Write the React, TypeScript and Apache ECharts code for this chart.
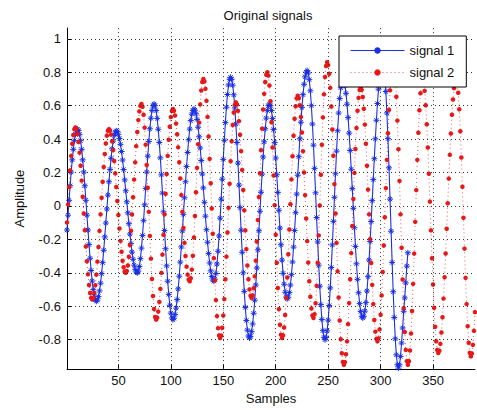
import React, { useEffect, useRef } from "react";
import * as echarts from "echarts";

// signal 1 values, samples 1..326
const signal1 = [
  -0.144, -0.055, 0.034, 0.121, 0.203, 0.276, 0.339, 0.391, 0.429, 0.452, 0.46,
  0.452, 0.429, 0.391, 0.339, 0.276, 0.203, 0.121, 0.034, -0.055, -0.144, -0.231, -0.313, -0.386, -0.449, -0.501, -0.539, -0.562, -0.57,
  -0.563, -0.542, -0.508, -0.462, -0.405, -0.339, -0.265, -0.185, -0.102, -0.018, 0.065, 0.145, 0.219, 0.285, 0.342, 0.388, 0.422, 0.443, 0.45,
  0.445, 0.429, 0.404, 0.369, 0.326, 0.275, 0.218, 0.156, 0.091, 0.025, -0.041, -0.106, -0.168, -0.225, -0.276, -0.319, -0.354, -0.379, -0.395, -0.4,
  -0.39, -0.362, -0.315, -0.252, -0.176, -0.088, 0.007, 0.105, 0.203, 0.298, 0.386, 0.462, 0.525, 0.572, 0.6, 0.61,
  0.6, 0.571, 0.524, 0.459, 0.38, 0.288, 0.186, 0.077, -0.035, -0.147, -0.256, -0.358, -0.45, -0.529, -0.594, -0.641, -0.67, -0.68,
  -0.672, -0.649, -0.611, -0.56, -0.496, -0.42, -0.336, -0.245, -0.149, -0.05, 0.049, 0.145, 0.236, 0.32, 0.396, 0.46, 0.511, 0.549, 0.572, 0.58,
  0.573, 0.552, 0.518, 0.471, 0.414, 0.347, 0.272, 0.191, 0.108, 0.022, -0.061, -0.142, -0.217, -0.284, -0.341, -0.388, -0.422, -0.443, -0.45,
  -0.438, -0.404, -0.347, -0.271, -0.179, -0.073, 0.041, 0.16, 0.279, 0.393, 0.499, 0.591, 0.667, 0.724, 0.758, 0.77,
  0.758, 0.723, 0.665, 0.587, 0.491, 0.38, 0.257, 0.125, -0.01, -0.145, -0.277, -0.4, -0.511, -0.607, -0.685, -0.743, -0.778, -0.79,
  -0.78, -0.752, -0.706, -0.642, -0.564, -0.473, -0.371, -0.262, -0.148, -0.032, 0.082, 0.191, 0.293, 0.384, 0.462, 0.526, 0.572, 0.6, 0.61,
  0.6, 0.571, 0.523, 0.458, 0.379, 0.287, 0.187, 0.081, -0.026, -0.132, -0.232, -0.324, -0.403, -0.468, -0.516, -0.545, -0.555,
  -0.546, -0.518, -0.473, -0.411, -0.335, -0.246, -0.147, -0.04, 0.071, 0.184, 0.295, 0.402, 0.501, 0.59, 0.666, 0.728, 0.773, 0.801, 0.81,
  0.796, 0.756, 0.689, 0.6, 0.49, 0.364, 0.225, 0.079, -0.069, -0.215, -0.354, -0.48, -0.59, -0.679, -0.746, -0.786, -0.8,
  -0.787, -0.747, -0.683, -0.596, -0.49, -0.368, -0.233, -0.092, 0.052, 0.193, 0.328, 0.45, 0.556, 0.643, 0.707, 0.747, 0.76,
  0.75, 0.721, 0.674, 0.609, 0.529, 0.436, 0.332, 0.22, 0.104, -0.014, -0.13, -0.242, -0.346, -0.439, -0.519, -0.584, -0.631, -0.66, -0.67,
  -0.66, -0.629, -0.578, -0.509, -0.423, -0.323, -0.212, -0.093, 0.032, 0.158, 0.283, 0.402, 0.513, 0.613, 0.699, 0.768, 0.819, 0.85, 0.86,
  0.84, 0.781, 0.685, 0.557, 0.403, 0.228, 0.041, -0.151, -0.338, -0.513, -0.667, -0.795, -0.891, -0.95, -0.97,
  -0.95, -0.9, -0.82, -0.73, -0.63, -0.55, -0.46, -0.36, -0.28,
];

// signal 2 values, samples 1..390
const signal2 = [
  -0.099, 0.009, 0.114, 0.213, 0.3, 0.372, 0.425, 0.459, 0.47,
  0.46, 0.431, 0.383, 0.319, 0.241, 0.152, 0.055, -0.045, -0.145, -0.242, -0.331, -0.409, -0.473, -0.521, -0.55, -0.56,
  -0.55, -0.521, -0.474, -0.411, -0.333, -0.245, -0.149, -0.05, 0.049, 0.145, 0.233, 0.311, 0.374, 0.421, 0.45, 0.46,
  0.452, 0.427, 0.387, 0.334, 0.269, 0.195, 0.114, 0.03, -0.054, -0.135, -0.209, -0.274, -0.328, -0.367, -0.392, -0.4,
  -0.389, -0.356, -0.304, -0.233, -0.148, -0.051, 0.052, 0.158, 0.261, 0.358, 0.443, 0.514, 0.566, 0.599, 0.61,
  0.594, 0.546, 0.469, 0.367, 0.245, 0.109, -0.035, -0.179, -0.315, -0.437, -0.539, -0.616, -0.664, -0.68,
  -0.668, -0.632, -0.574, -0.496, -0.4, -0.291, -0.173, -0.05, 0.073, 0.191, 0.3, 0.396, 0.474, 0.532, 0.568, 0.58,
  0.57, 0.541, 0.493, 0.429, 0.351, 0.262, 0.165, 0.065, -0.035, -0.132, -0.221, -0.299, -0.363, -0.411, -0.44, -0.45,
  -0.432, -0.381, -0.298, -0.189, -0.06, 0.082, 0.228, 0.37, 0.499, 0.608, 0.691, 0.742, 0.76,
  0.745, 0.701, 0.629, 0.533, 0.416, 0.282, 0.136, -0.015, -0.166, -0.312, -0.446, -0.563, -0.659, -0.731, -0.775, -0.79,
  -0.775, -0.729, -0.655, -0.557, -0.438, -0.303, -0.159, -0.011, 0.133, 0.268, 0.387, 0.485, 0.559, 0.605, 0.62,
  0.607, 0.569, 0.508, 0.426, 0.328, 0.216, 0.096, -0.026, -0.146, -0.258, -0.356, -0.438, -0.499, -0.537, -0.55,
  -0.535, -0.492, -0.421, -0.327, -0.213, -0.084, 0.054, 0.196, 0.334, 0.463, 0.577, 0.671, 0.742, 0.785, 0.8,
  0.78, 0.721, 0.627, 0.501, 0.35, 0.182, 0.005, -0.172, -0.34, -0.491, -0.617, -0.711, -0.77, -0.79,
  -0.774, -0.727, -0.652, -0.55, -0.428, -0.289, -0.141, 0.011, 0.159, 0.298, 0.42, 0.522, 0.597, 0.644, 0.66,
  0.645, 0.603, 0.533, 0.44, 0.328, 0.2, 0.065, -0.075, -0.21, -0.338, -0.45, -0.543, -0.613, -0.655, -0.67,
  -0.648, -0.582, -0.478, -0.34, -0.176, 0.003, 0.187, 0.366, 0.53, 0.668, 0.772, 0.838, 0.86,
  0.843, 0.791, 0.707, 0.595, 0.458, 0.301, 0.131, -0.045, -0.221, -0.391, -0.548, -0.685, -0.797, -0.881, -0.933, -0.95,
  -0.934, -0.887, -0.81, -0.707, -0.581, -0.438, -0.282, -0.12, 0.042, 0.198, 0.341, 0.467, 0.57, 0.647, 0.694, 0.71,
  0.695, 0.652, 0.582, 0.487, 0.372, 0.241, 0.098, -0.05, -0.198, -0.341, -0.472, -0.587, -0.682, -0.752, -0.795, -0.81,
  -0.792, -0.738, -0.651, -0.535, -0.395, -0.236, -0.067, 0.107, 0.276, 0.435, 0.575, 0.692, 0.778, 0.832, 0.85,
  0.828, 0.761, 0.654, 0.511, 0.34, 0.15, -0.05, -0.25, -0.44, -0.611, -0.754, -0.861, -0.928, -0.95,
  -0.929, -0.865, -0.763, -0.628, -0.466, -0.285, -0.095, 0.095, 0.276, 0.438, 0.573, 0.675, 0.739, 0.76,
  0.742, 0.689, 0.603, 0.489, 0.35, 0.193, 0.026, -0.146, -0.313, -0.47, -0.609, -0.723, -0.809, -0.862, -0.88,
  -0.866, -0.825, -0.757, -0.666, -0.554, -0.426, -0.284, -0.136, 0.016, 0.164, 0.306, 0.434, 0.546, 0.637, 0.705, 0.746, 0.76,
  0.739, 0.678, 0.579, 0.447, 0.29, 0.115, -0.07, -0.255, -0.43, -0.587, -0.719, -0.818, -0.879, -0.9,
  -0.883, -0.831, -0.747, -0.635,
];

const seriesNames = ["signal 1", "signal 2"];
const xTicks = [50, 100, 150, 200, 250, 300, 350];
const yTicks = [-0.8, -0.6, -0.4, -0.2, 0, 0.2, 0.4, 0.6, 0.8, 1];
const xRange = [1, 390];
const yRange = [-0.976, 1.065];
const titleText = "Original signals";
const xName = "Samples";
const yName = "Amplitude";

export default function App() {
  const ref = useRef<HTMLDivElement>(null);

  useEffect(() => {
    if (!ref.current) return;
    const chart = echarts.init(ref.current, null, { renderer: "svg" });
    const font = "'Liberation Sans', Arial, Helvetica, sans-serif";
    const blue = "#1a2fe6";
    const red = "#e81818";
    const ink = "#111";
    const asterisk =
      "path://M0,5L10,5M5,0L5,10M1.5,1.5L8.5,8.5M8.5,1.5L1.5,8.5";

    chart.setOption({
      animation: false,
      backgroundColor: "#ffffff",
      textStyle: { fontFamily: font, color: ink },
      graphic: [
        {
          type: "text",
          x: 268,
          y: 15,
          silent: true,
          style: {
            text: titleText,
            fill: ink,
            fontSize: 13,
            fontFamily: font,
            align: "center",
            verticalAlign: "middle",
          },
        },
      ],
      grid: { left: 67, right: 2, top: 28, bottom: 35 },
      legend: {
        data: seriesNames,
        orient: "vertical",
        left: 339,
        top: 36,
        z: 20,
        padding: [8, 12, 8, 11],
        itemWidth: 54,
        itemHeight: 8,
        itemGap: 9,
        backgroundColor: "#ffffff",
        borderColor: "#000",
        borderWidth: 1,
        borderRadius: 0,
        selectedMode: false,
        lineStyle: { width: 1 },
        textStyle: { fontSize: 13, color: ink, fontFamily: font },
      },
      xAxis: {
        type: "value",
        min: xRange[0],
        max: xRange[1],
        name: xName,
        nameLocation: "middle",
        nameGap: 19,
        nameTextStyle: { fontSize: 13, color: ink },
        axisLine: { show: true, onZero: false, lineStyle: { color: "#000", width: 1 } },
        axisTick: { show: true, inside: true, length: 5, customValues: xTicks, lineStyle: { color: "#000" } },
        axisLabel: { show: true, customValues: xTicks, margin: 5, fontSize: 13, color: ink },
        splitLine: { show: false },
      },
      yAxis: {
        type: "value",
        min: yRange[0],
        max: yRange[1],
        name: yName,
        nameLocation: "middle",
        nameGap: 41,
        nameTextStyle: { fontSize: 13, color: ink },
        axisLine: { show: true, onZero: false, lineStyle: { color: "#000", width: 1 } },
        axisTick: { show: true, inside: true, length: 5, customValues: yTicks, lineStyle: { color: "#000" } },
        axisLabel: {
          show: true,
          customValues: yTicks,
          margin: 6,
          fontSize: 13,
          color: ink,
          formatter: (v: number) => String(Math.round(v * 10) / 10),
        },
        splitLine: { show: false },
      },
      series: [
        {
          type: "line",
          name: "grid",
          data: [],
          silent: true,
          z: 1,
          markLine: {
            silent: true,
            symbol: ["none", "none"],
            label: { show: false },
            emphasis: { disabled: true },
            lineStyle: { color: "#333", type: [1, 3], width: 1 },
            data: [
              ...xTicks.map((v) => ({ xAxis: v })),
              ...yTicks.map((v) => ({ yAxis: v })),
            ],
          },
        },
        {
          type: "line",
          name: seriesNames[0],
          data: signal1.map((v, i) => [i + 1, v]),
          symbol: asterisk,
          symbolSize: 6,
          showAllSymbol: true,
          z: 2,
          lineStyle: { color: blue, width: 1.1 },
          itemStyle: { color: blue, borderColor: blue, borderWidth: 1 },
          emphasis: { disabled: true },
        },
        {
          type: "line",
          name: seriesNames[1],
          data: signal2.map((v, i) => [i + 1, v]),
          symbol: "circle",
          symbolSize: 4.5,
          showAllSymbol: true,
          z: 3,
          lineStyle: { color: "rgba(232,24,24,0.7)", width: 1, type: [1, 3] },
          itemStyle: { color: red, borderWidth: 0 },
          emphasis: { disabled: true },
        },
      ],
    });

    return () => chart.dispose();
  }, []);

  return (
    <div
      ref={ref}
      style={{ position: "fixed", left: 0, top: 0, width: 477, height: 410 }}
    />
  );
}
